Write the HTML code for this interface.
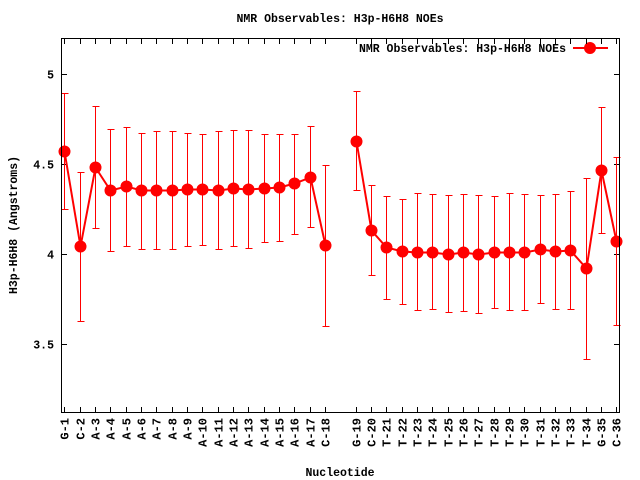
<!DOCTYPE html>
<html><head><meta charset="utf-8"><style>
html,body{margin:0;padding:0;background:#fff;width:640px;height:480px;overflow:hidden}
text{font-family:"Liberation Mono",monospace;font-weight:bold;font-size:11.5px;fill:#000}
</style></head><body>
<svg id="s" width="640" height="480" viewBox="0 0 640 480" xmlns="http://www.w3.org/2000/svg">
<rect x="0" y="0" width="640" height="480" fill="#fff"/>
<text x="340" y="22" text-anchor="middle">NMR Observables: H3p-H6H8 NOEs</text>
<text x="566" y="52" text-anchor="end">NMR Observables: H3p-H6H8 NOEs</text>
<line x1="573" y1="48" x2="608" y2="48" stroke="#f00" stroke-width="2"/>
<circle cx="590" cy="48" r="6" fill="#f00"/>
<text x="340" y="476" text-anchor="middle">Nucleotide</text>
<text transform="translate(17,225) rotate(-90)" text-anchor="middle">H3p-H6H8 (Angstroms)</text>
<g id="g"></g>
<rect x="61.5" y="38.5" width="558" height="374" fill="none" stroke="#000" stroke-width="1"/>
</svg>
<script>
var names=["G-1","C-2","A-3","A-4","A-5","A-6","A-7","A-8","A-9","A-10","A-11","A-12","A-13","A-14","A-15","A-16","A-17","C-18",null,"G-19","C-20","T-21","T-22","T-23","T-24","T-25","T-26","T-27","T-28","T-29","T-30","T-31","T-32","T-33","T-34","G-35","C-36"];
var d=[[4.576,4.894,4.25],[4.046,4.459,3.63],[4.487,4.826,4.144],[4.357,4.694,4.018],[4.38,4.709,4.044],[4.357,4.676,4.028],[4.357,4.683,4.028],[4.357,4.683,4.028],[4.363,4.676,4.044],[4.363,4.67,4.05],[4.357,4.683,4.028],[4.368,4.689,4.044],[4.363,4.689,4.033],[4.368,4.667,4.067],[4.376,4.67,4.072],[4.394,4.67,4.113],[4.429,4.711,4.15],[4.052,4.498,3.6],null,[4.629,4.906,4.356],[4.135,4.383,3.883],[4.04,4.322,3.75],[4.018,4.306,3.722],[4.013,4.339,3.689],[4.013,4.333,3.694],[4.0,4.328,3.678],[4.013,4.333,3.683],[4.0,4.328,3.672],[4.013,4.322,3.7],[4.013,4.339,3.689],[4.013,4.333,3.689],[4.029,4.328,3.728],[4.018,4.333,3.694],[4.024,4.35,3.694],[3.924,4.422,3.417],[4.468,4.817,4.117],[4.074,4.543,3.606]];
function X(i){return Math.round(64.3+15.33*i)+0.5}
function Y(v){return Math.round(254.3-(v-4)*180)+0.5}
var h='';
[5,4.5,4,3.5].forEach(function(v){var y=Y(v);
h+='<line x1="61.5" y1="'+y+'" x2="67" y2="'+y+'" stroke="#000"/><line x1="614" y1="'+y+'" x2="619.5" y2="'+y+'" stroke="#000"/>';
h+='<text x="54" y="'+(y+4)+'" text-anchor="end">'+v+'</text>';});
var pts=[];
for(var i=0;i<names.length;i++){if(!names[i])continue;var x=X(i);
h+='<line x1="'+x+'" y1="412.5" x2="'+x+'" y2="407" stroke="#000"/><line x1="'+x+'" y1="38.5" x2="'+x+'" y2="44" stroke="#000"/>';
h+='<text transform="translate('+(x+4)+',418) rotate(-90)" text-anchor="end" style="font-size:12px">'+names[i]+'</text>';
var e=d[i],yt=Y(e[1]),yb=Y(e[2]);
h+='<path d="M'+x+' '+yt+'V'+yb+'M'+(x-3)+' '+yt+'h7M'+(x-3)+' '+yb+'h7" stroke="#f00" stroke-width="1" fill="none"/>';
pts.push([x,Y(e[0])]);}
var seg1=pts.slice(0,18),seg2=pts.slice(18);
[seg1,seg2].forEach(function(s){h+='<polyline points="'+s.map(function(p){return p[0]+','+p[1]}).join(' ')+'" fill="none" stroke="#f00" stroke-width="2"/>';});
pts.forEach(function(p){h+='<circle cx="'+p[0]+'" cy="'+p[1]+'" r="6" fill="#f00"/>';});
document.getElementById('g').innerHTML=h;
</script>
</body></html>
